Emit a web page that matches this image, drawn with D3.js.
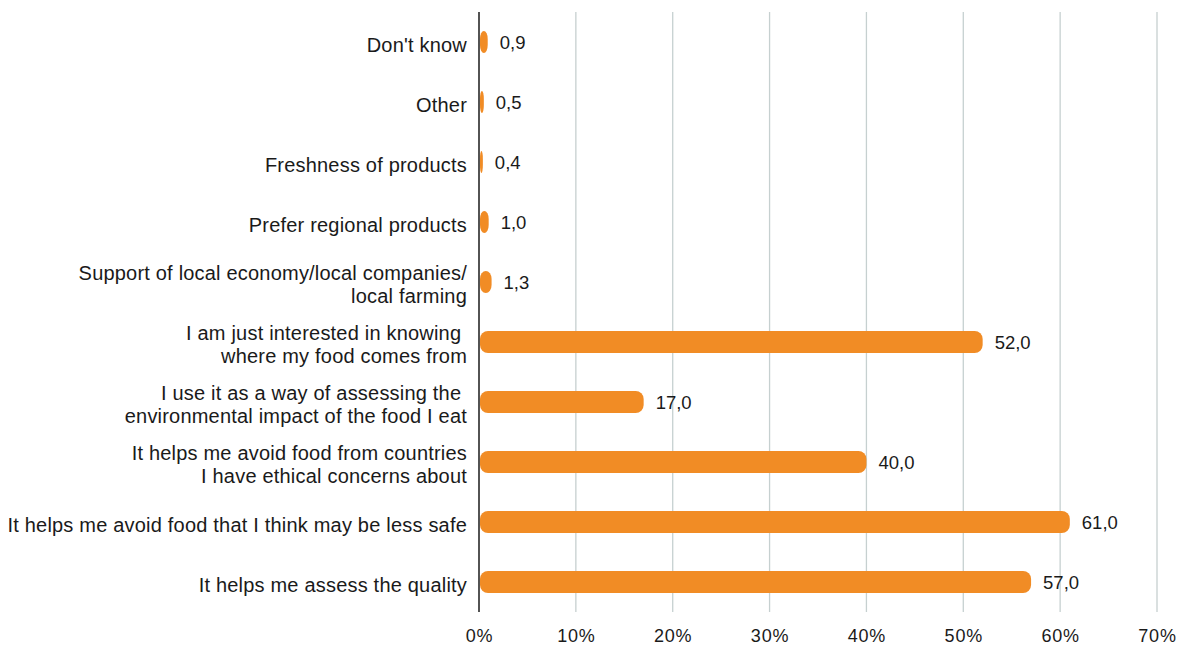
<!DOCTYPE html>
<html>
<head>
<meta charset="utf-8">
<script src="https://cdn.jsdelivr.net/npm/d3@7"></script>
<style>
  html, body { margin: 0; padding: 0; background: #ffffff; }
  svg { display: block; }
  text { font-family: "Liberation Sans", Arial, Helvetica, sans-serif; fill: #1a1a1a; }
</style>
</head>
<body>
<svg id="chart" width="1179" height="646"></svg>
<script>
// Reasons for checking the origin of food (share of respondents, %)
const categories = [
  ["Don't know"],
  ["Other"],
  ["Freshness of products"],
  ["Prefer regional products"],
  ["Support of local economy/local companies/", "local farming"],
  ["I am just interested in knowing ", "where my food comes from"],
  ["I use it as a way of assessing the ", "environmental impact of the food I eat"],
  ["It helps me avoid food from countries", "I have ethical concerns about"],
  ["It helps me avoid food that I think may be less safe"],
  ["It helps me assess the quality"]
];
const values = [0.9, 0.5, 0.4, 1.0, 1.3, 52.0, 17.0, 40.0, 61.0, 57.0];
const tickValues = [0, 10, 20, 30, 40, 50, 60, 70];

const svg = d3.select("#chart");
const plotTop = 12, plotBottom = 612, plotLeft = 479, plotRight = 1157;
const labelRight = 467;

const x = d3.scaleLinear().domain([0, 70]).range([plotLeft, plotRight]);
const y = d3.scaleBand()
  .domain(d3.range(categories.length))
  .range([plotTop, plotBottom])
  .paddingInner(0.63)
  .paddingOuter(0.315);

// vertical gridlines
svg.append("g")
  .selectAll("line")
  .data(tickValues.filter(d => d > 0))
  .join("line")
  .attr("x1", d => x(d)).attr("x2", d => x(d))
  .attr("y1", plotTop).attr("y2", plotBottom)
  .attr("stroke", "#c6d0d0")
  .attr("stroke-width", 1.3);

// x axis tick labels
const xAxis = d3.axisBottom(x)
  .tickValues(tickValues)
  .tickFormat(d => d + "%")
  .tickSize(0)
  .tickPadding(17);
const gx = svg.append("g")
  .attr("transform", `translate(0,${plotBottom})`)
  .call(xAxis);
gx.select(".domain").remove();
gx.selectAll("text")
  .style("font-family", "'Liberation Sans', Arial, sans-serif")
  .style("font-size", "18px")
  .style("letter-spacing", "0.8px")
  .style("fill", "#1a1a1a");

// bars
const barH = y.bandwidth();
svg.append("g")
  .selectAll("rect")
  .data(values)
  .join("rect")
  .attr("x", x(0) + 1)
  .attr("y", (d, i) => y(i))
  .attr("width", d => Math.max(x(d) - x(0) - 1, 2))
  .attr("height", barH)
  .attr("rx", d => Math.min(8, (x(d) - x(0)) / 2))
  .attr("ry", 8)
  .attr("fill", "#f18c25");

// value labels
svg.append("g")
  .selectAll("text")
  .data(values)
  .join("text")
  .attr("x", d => x(d) + 12)
  .attr("y", (d, i) => y(i) + barH / 2 + 6.5)
  .style("font-size", "18.5px")
  .text(d => d.toFixed(1).replace(".", ","));

// category labels
const labels = svg.append("g")
  .selectAll("text")
  .data(categories)
  .join("text")
  .attr("text-anchor", "end")
  .attr("x", labelRight)
  .attr("y", (d, i) => y(i) + barH / 2)
  .style("font-size", "20px")
  .style("letter-spacing", "0.2px");
labels.each(function(lines) {
  const t = d3.select(this);
  const lh = 23;
  const offset = -(lines.length - 1) * lh / 2;
  lines.forEach((line, k) => {
    t.append("tspan")
      .attr("x", labelRight)
      .attr("dy", k === 0 ? (offset + 9.5) : lh)
      .attr("xml:space", "preserve")
      .text(line);
  });
});

// y axis line
svg.append("line")
  .attr("x1", x(0)).attr("x2", x(0))
  .attr("y1", plotTop).attr("y2", plotBottom)
  .attr("stroke", "#1a1a1a")
  .attr("stroke-width", 1.5);
</script>
</body>
</html>
